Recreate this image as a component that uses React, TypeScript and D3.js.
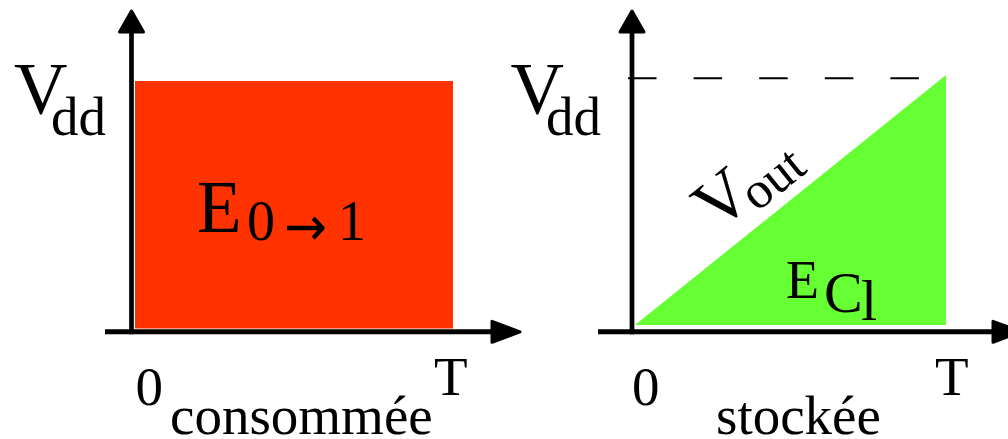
import React from "react";
import * as d3 from "d3";

// ---- data ----
const timePoints = [0, 1]; // 0 .. T
const tickLabels = ["0", "T"];
const consumedVoltage = [1, 1]; // constant Vdd during switching -> energy consumed
const storedVoltage = [0, 1]; // Vout ramps 0 -> Vdd -> energy stored
const energyNames = ["consommée", "stockée"];
const supplyLabel = ["V", "dd"];
const outLabel = ["V", "out"];
const consumedEnergy = ["E", "0", "→", "1"];
const storedEnergy = ["E", "C", "l"];

const RED = "#FF3300";
const GREEN = "#66FF33";
const FONT = "'Liberation Serif', 'Times New Roman', serif";

export default function App() {
  const W = 1008;
  const H = 439;

  // scales for each panel
  const xL = d3.scaleLinear().domain([0, 1]).range([135, 453]);
  const yL = d3.scaleLinear().domain([0, 1]).range([328.5, 81]);
  const xR = d3.scaleLinear().domain([0, 1]).range([635, 946]);
  const yR = d3.scaleLinear().domain([0, 1]).range([325, 75]);

  const ptsL = timePoints.map((t, i) => [t, consumedVoltage[i]] as [number, number]);
  const ptsR = timePoints.map((t, i) => [t, storedVoltage[i]] as [number, number]);

  const areaL = d3
    .area<[number, number]>()
    .x((d) => xL(d[0]))
    .y0(yL(0))
    .y1((d) => yL(d[1]));
  const areaR = d3
    .area<[number, number]>()
    .x((d) => xR(d[0]))
    .y0(yR(0))
    .y1((d) => yR(d[1]));

  const angle = (Math.atan2(yR(0) - yR(1), xR(1) - xR(0)) * 180) / Math.PI;

  const axis = (yAxisX: number, xAxisY: number, xStart: number, xEnd: number) => (
    <g>
      <line x1={yAxisX} x2={yAxisX} y1={32} y2={xAxisY + 2.5} stroke="#000" strokeWidth={4.7} />
      <polygon
        points={`${yAxisX},11 ${yAxisX - 12},32 ${yAxisX + 12},32`}
        fill="#000"
        stroke="#000"
        strokeWidth={3}
        strokeLinejoin="round"
      />
      <line x1={xStart} x2={xEnd} y1={xAxisY} y2={xAxisY} stroke="#000" strokeWidth={5} />
      <polygon
        points={`${xEnd + 28},${xAxisY} ${xEnd},${xAxisY - 10.5} ${xEnd},${xAxisY + 10.5}`}
        fill="#000"
        stroke="#000"
        strokeWidth={3}
        strokeLinejoin="round"
      />
    </g>
  );

  return (
    <svg
      width={W}
      height={H}
      style={{ position: "absolute", left: 0, top: 0, background: "#fff" }}
      fontFamily={FONT}
    >
      {/* left panel */}
      <path d={areaL(ptsL) || ""} fill={RED} />
      {axis(131.5, 331.8, 105, 492)}
      <text x={14} y={113.5} fontSize={74}>
        {supplyLabel[0]}
        <tspan x={51} y={135} fontSize={55}>{supplyLabel[1]}</tspan>
      </text>
      <text x={197} y={232} fontSize={73}>
        {consumedEnergy[0]}
        <tspan x={247} y={239.5} fontSize={56}>{consumedEnergy[1]}</tspan>
        <tspan
          x={284}
          y={245}
          fontSize={54}
          fontFamily="'DejaVu Sans'"
          textLength={43}
          lengthAdjust="spacingAndGlyphs"
        >
          {consumedEnergy[2]}
        </tspan>
        <tspan x={338} y={239.5} fontSize={56}>{consumedEnergy[3]}</tspan>
      </text>
      <text x={xL(0) + 0.5} y={405} fontSize={55}>{tickLabels[0]}</text>
      <text x={xL(1) - 19} y={395} fontSize={55}>{tickLabels[1]}</text>
      <text x={170} y={433.5} fontSize={55}>{energyNames[0]}</text>

      {/* right panel */}
      <path d={areaR(ptsR) || ""} fill={GREEN} />
      <line
        x1={628}
        x2={920}
        y1={yR(1) + 3.3}
        y2={yR(1) + 3.3}
        stroke="#000"
        strokeWidth={2}
        strokeDasharray="28.5 37.1"
      />
      {axis(632, 331.8, 598, 993)}
      <text x={510.5} y={113.5} fontSize={74}>
        {supplyLabel[0]}
        <tspan x={546} y={135} fontSize={55}>{supplyLabel[1]}</tspan>
      </text>
      <g transform={`translate(716.4,232.3) rotate(${-angle})`}>
        <text x={0} y={0} fontSize={70}>
          {outLabel[0]}
          <tspan x={44} y={10} fontSize={52}>{outLabel[1]}</tspan>
        </text>
      </g>
      <text x={786} y={298} fontSize={54}>
        {storedEnergy[0]}
        <tspan x={824} y={312} fontSize={58}>{storedEnergy[1]}</tspan>
        <tspan x={861} y={320} fontSize={58}>{storedEnergy[2]}</tspan>
      </text>
      <text x={xR(0) - 3} y={405} fontSize={55}>{tickLabels[0]}</text>
      <text x={xR(1) - 11} y={395} fontSize={55}>{tickLabels[1]}</text>
      <text x={716} y={433.5} fontSize={55}>{energyNames[1]}</text>
    </svg>
  );
}
